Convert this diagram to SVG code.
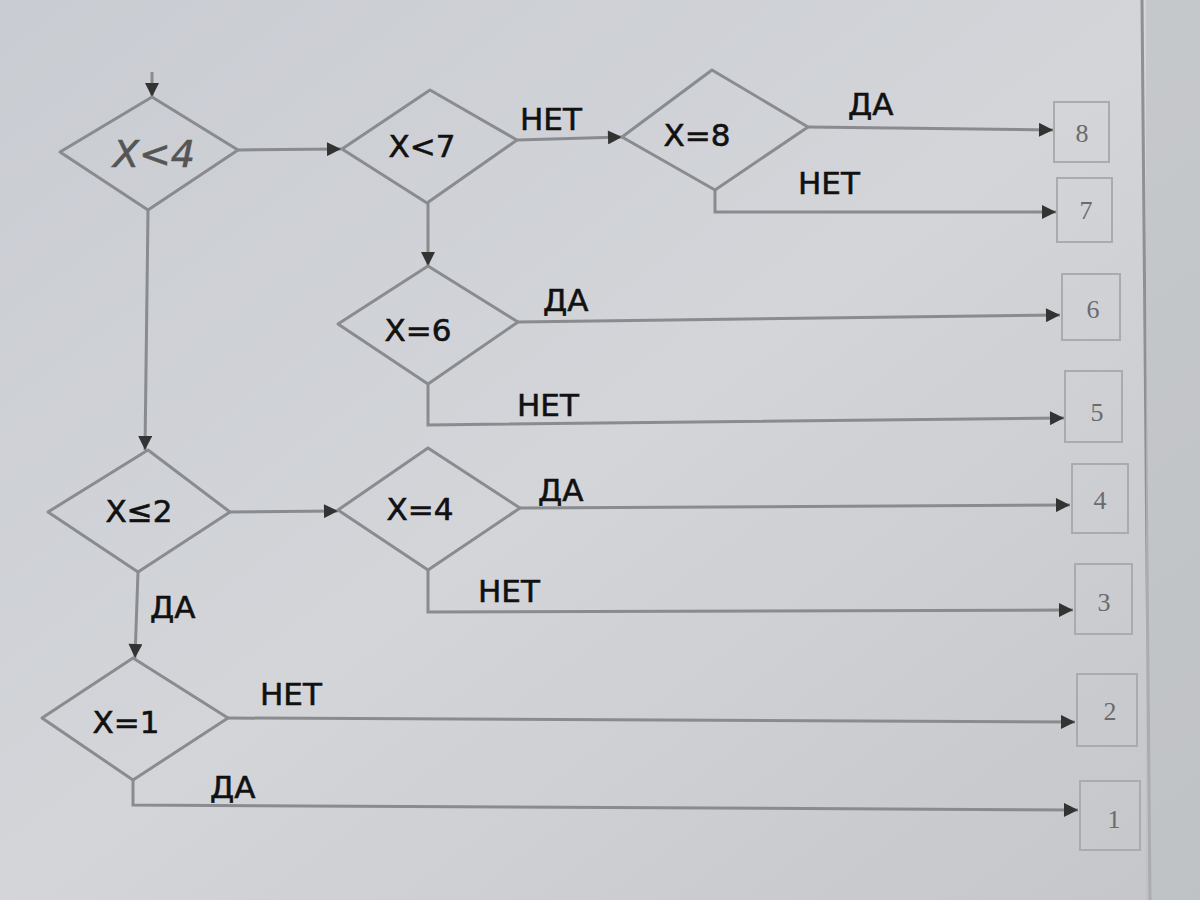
<svg xmlns="http://www.w3.org/2000/svg" width="1200" height="900" viewBox="0 0 1200 900">
<defs>
<linearGradient id="bg" x1="0" y1="0" x2="1" y2="1">
<stop offset="0" stop-color="#c9ccd2"/>
<stop offset="0.5" stop-color="#d3d5d9"/>
<stop offset="1" stop-color="#c4c6c9"/>
</linearGradient>
<marker id="ah" viewBox="0 0 10 10" refX="10" refY="5" markerWidth="18" markerHeight="14" markerUnits="userSpaceOnUse" orient="auto">
<path d="M0,0 L10,5 L0,10 z" fill="#333"/>
</marker>
</defs>
<style>
.d{fill:none;stroke:#8a8b8e;stroke-width:3;stroke-linejoin:round}
.ca{fill:none;stroke:#8a8b8e;stroke-width:3;marker-end:url(#ah)}
.b{fill:none;stroke:#a9abae;stroke-width:2}
.t{font-family:"DejaVu Sans","Liberation Sans",sans-serif;font-size:31px;fill:#111;stroke:#111;stroke-width:0.6;text-anchor:middle}
.l{font-family:"DejaVu Sans","Liberation Sans",sans-serif;font-size:31px;fill:#111;stroke:#111;stroke-width:0.6}
.n{font-family:"Liberation Serif",serif;font-size:26px;fill:#6a6b6e;text-anchor:middle}
</style>
<rect width="1200" height="900" fill="url(#bg)"/>
<line x1="1142" y1="0" x2="1150" y2="900" stroke="#8e9094" stroke-width="3"/>
<rect x="1146" y="0" width="54" height="900" fill="#bdbfc2" opacity="0.6"/>

<g id="connectors">
<line class="ca" x1="152" y1="72" x2="152" y2="97"/>
<line class="ca" x1="238" y1="150" x2="341" y2="149"/>
<line class="ca" x1="517" y1="140" x2="622" y2="137"/>
<line class="ca" x1="808" y1="127" x2="1053" y2="130"/>
<polyline class="ca" points="715,190 715,212 1056,212"/>
<line class="ca" x1="428" y1="203" x2="428" y2="266"/>
<line class="ca" x1="518" y1="322" x2="1060" y2="315"/>
<polyline class="ca" points="428,384 428,425 1064,418"/>
<line class="ca" x1="148" y1="210" x2="145" y2="450"/>
<line class="ca" x1="230" y1="512" x2="338" y2="511"/>
<line class="ca" x1="520" y1="508" x2="1070" y2="505"/>
<polyline class="ca" points="428,570 428,612 1073,610"/>
<line class="ca" x1="138" y1="572" x2="135" y2="658"/>
<line class="ca" x1="228" y1="718" x2="1075" y2="722"/>
<polyline class="ca" points="133,780 133,805 1078,810"/>
</g>

<g id="d-x4">
<polygon class="d" points="152,97 238,150 148,210 60,152"/>
<text x="154" y="167" class="t" style="font-size:38px;fill:#555;stroke:#555;font-style:italic">X&lt;4</text>
</g>
<g id="d-x7">
<polygon class="d" points="430,90 517,140 427,203 342,149"/>
<text x="422" y="157" class="t">X&lt;7</text>
</g>
<g id="d-x8">
<polygon class="d" points="712,70 808,127 715,190 622,137"/>
<text x="697" y="146" class="t">X=8</text>
</g>
<g id="d-x6">
<polygon class="d" points="428,266 518,322 428,384 338,324"/>
<text x="418" y="341" class="t">X=6</text>
</g>
<g id="d-x2">
<polygon class="d" points="148,450 230,512 138,572 48,512"/>
<text x="139" y="522" class="t">X≤2</text>
</g>
<g id="d-x4b">
<polygon class="d" points="428,448 520,508 428,570 338,510"/>
<text x="420" y="520" class="t">X=4</text>
</g>
<g id="d-x1">
<polygon class="d" points="133,658 228,718 133,780 42,718"/>
<text x="126" y="733" class="t">X=1</text>
</g>

<g id="labels">
<text x="520" y="130" class="l">НЕТ</text>
<text x="848" y="115" class="l">ДА</text>
<text x="798" y="194" class="l">НЕТ</text>
<text x="543" y="311" class="l">ДА</text>
<text x="517" y="416" class="l">НЕТ</text>
<text x="538" y="501" class="l">ДА</text>
<text x="478" y="602" class="l">НЕТ</text>
<text x="150" y="618" class="l">ДА</text>
<text x="260" y="705" class="l">НЕТ</text>
<text x="210" y="798" class="l">ДА</text>
</g>

<g id="box8"><rect class="b" x="1054" y="102" width="55" height="60"/><text x="1082" y="142" class="n">8</text></g>
<g id="box7"><rect class="b" x="1057" y="178" width="55" height="64"/><text x="1086" y="219" class="n">7</text></g>
<g id="box6"><rect class="b" x="1062" y="274" width="58" height="66"/><text x="1093" y="318" class="n">6</text></g>
<g id="box5"><rect class="b" x="1065" y="371" width="57" height="71"/><text x="1097" y="421" class="n">5</text></g>
<g id="box4"><rect class="b" x="1072" y="464" width="56" height="69"/><text x="1100" y="509" class="n">4</text></g>
<g id="box3"><rect class="b" x="1075" y="564" width="57" height="70"/><text x="1104" y="611" class="n">3</text></g>
<g id="box2"><rect class="b" x="1077" y="674" width="60" height="72"/><text x="1110" y="720" class="n">2</text></g>
<g id="box1"><rect class="b" x="1080" y="781" width="60" height="69"/><text x="1114" y="828" class="n">1</text></g>
</svg>
